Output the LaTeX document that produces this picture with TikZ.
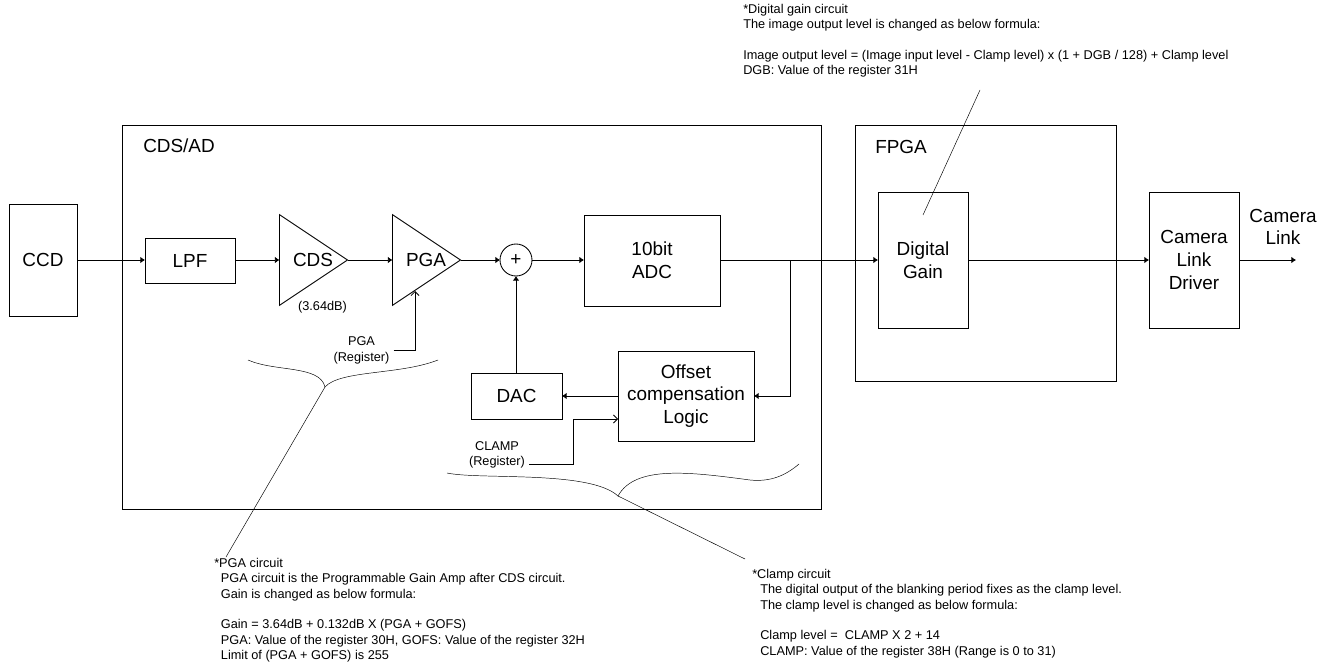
\documentclass[tikz,border=0pt]{standalone}
\usepackage{fontspec}
\setmainfont{Liberation Sans}
\usetikzlibrary{arrows.meta,shapes.geometric}
\tikzset{
  block/.style 2 args={draw, inner sep=0pt, outer sep=0pt, line width=0.65pt, align=center,
    minimum width=#1*0.75pt, minimum height=#2*0.75pt, font=\fontsize{14.2}{17}\selectfont},
  amp/.style={draw, isosceles triangle, isosceles triangle stretches, inner sep=0pt, outer sep=0pt,
    minimum width=68pt, minimum height=51pt, line width=0.65pt, anchor=lower side},
  amptext/.style={inner sep=0pt, font=\fontsize{14.2}{17}\selectfont},
  wire/.style={line width=0.65pt, -{Latex[length=3.5pt,width=5pt]}},
  regwire/.style={line width=0.65pt, -{Straight Barb[length=3pt,width=6pt]}},
  lead/.style={line width=0.35pt},
  small/.style={inner sep=0pt, align=center, font=\fontsize{9.55}{11.5}\selectfont},
  note/.style={inner sep=0pt, align=left, anchor=north west, font=\fontsize{9.55}{11.5}\selectfont},
  title/.style={inner sep=0pt, anchor=west, font=\fontsize{14.2}{17}\selectfont},
}
\begin{document}
\begin{tikzpicture}[x=0.75pt, y=-0.75pt]
  \useasboundingbox (0,0) rectangle (1328,663);

  % enclosures
  \node[block={699}{384}] (cdsad) at (471.5,317) {};
  \node[block={261}{256}] (fpga) at (985.5,253) {};
  \node[title] (cdsadTitle) at (143,146) {CDS/AD};
  \node[title] (fpgaTitle) at (875,147) {FPGA};

  % signal path
  \node[block={68}{112}] (ccd) at (43,260) {CCD};
  \node[block={90}{45}] (lpf) at (190,260.5) {LPF};
  \node[amp] (cds) at (279.5,260) {};
  \node[amptext] (cdsText) at (313,259.5) {CDS};
  \node[amp] (pga) at (392.5,260) {};
  \node[amptext] (pgaText) at (426,259.5) {PGA};
  \node[draw, circle, inner sep=0pt, outer sep=0pt, minimum size=24pt, line width=0.65pt, font=\fontsize{14.2}{17}\selectfont] (sum) at (516,260) {+};
  \node[block={136}{91}] (adc) at (652,260.5) {10bit\\ADC};
  \node[block={90}{136}] (dgain) at (923,260) {Digital\\Gain};
  \node[block={90}{136}] (driver) at (1194,260) {Camera\\Link\\Driver};
  \node[block={91}{46}] (dac) at (516.5,396) {DAC};
  \node[block={136}{90}] (offset) at (686,396) {Offset\\compensation\\Logic};
  \node[title, anchor=center, align=center, font=\fontsize{14.2}{16.5}\selectfont] (cameralink) at (1283,227) {Camera\\Link};
  \coordinate (out) at (1296,260);
  \coordinate (tap) at (790,260);

  % labels
  \node[small] (gainLabel) at (322.5,307) {(3.64dB)};
  \node[small] (pgaReg) at (361.5,350.5) {PGA\\(Register)};
  \node[small] (clampReg) at (497,455) {CLAMP\\(Register)};

  % connections
  \draw[wire] (ccd.east) -- (lpf.west |- ccd.east);
  \draw[wire] (lpf.east |- cds.lower side) -- (cds.lower side);
  \draw[wire] (cds.apex) -- (pga.lower side);
  \draw[wire] (pga.apex) -- (sum.west);
  \draw[wire] (sum.east) -- (adc.west |- sum.east);
  \draw[wire] (adc.east |- sum.east) -- (dgain.west);
  \draw[wire] (dgain.east) -- (driver.west);
  \draw[wire] (driver.east) -- (out);
  \draw[wire] (tap) |- (offset.east);
  \draw[wire] (offset.west) -- (dac.east);
  \draw[wire] (dac.north -| sum.south) -- (sum.south);

  \coordinate (pgaIn) at (415,291);
  \coordinate (clampIn) at (618,419);
  \coordinate (clampOut) at (529,464);
  \draw[regwire] ([xshift=3pt]pgaReg.east) -| (pgaIn);
  \draw[regwire] (clampOut) -- ++(44,0) |- (clampIn);

  % braces
  \coordinate (pgaTip) at (325,387);
  \coordinate (clampTip) at (618,496);
  \draw[lead] (248,360) .. controls (275,372) and (320,365) .. (pgaTip)
    .. controls (340,370) and (400,375) .. (438,360);
  \draw[lead] (447,473) .. controls (480,480) and (590,470) .. (clampTip)
    .. controls (635,465) and (690,472) .. (750,480) .. controls (770,482) and (785,476) .. (799,464);

  % notes
  \coordinate (pgaEnd) at (226,557);
  \coordinate (clampEnd) at (745,559);
  \coordinate (dgainTop) at (923,215);
  \coordinate (dgainEnd) at (980,90);
  \draw[lead] (pgaTip) -- (pgaEnd);
  \draw[lead] (clampTip) -- (clampEnd);
  \draw[lead] (dgainTop) -- (dgainEnd);

  \node[note] (pgaNote) at (214,558) {*PGA circuit\\
    \hspace*{5pt}PGA circuit is the Programmable Gain Amp after CDS circuit.\\
    \hspace*{5pt}Gain is changed as below formula:\\[11.5pt]
    \hspace*{5pt}Gain = 3.64dB + 0.132dB X (PGA + GOFS)\\
    \hspace*{5pt}PGA: Value of the register 30H, GOFS: Value of the register 32H\\
    \hspace*{5pt}Limit of (PGA + GOFS) is 255};
  \node[note] (clampNote) at (752,569) {*Clamp circuit\\
    \hspace*{6pt}The digital output of the blanking period fixes as the clamp level.\\
    \hspace*{6pt}The clamp level is changed as below formula:\\[11.5pt]
    \hspace*{6pt}Clamp level =\ \ CLAMP X 2 + 14\\
    \hspace*{6pt}CLAMP: Value of the register 38H (Range is 0 to 31)};
  \node[note] (dgainNote) at (743,4) {*Digital gain circuit\\
    The image output level is changed as below formula:\\[11.5pt]
    Image output level = (Image input level - Clamp level) x (1 + DGB / 128) + Clamp level\\
    DGB: Value of the register 31H};
\end{tikzpicture}
\end{document}
